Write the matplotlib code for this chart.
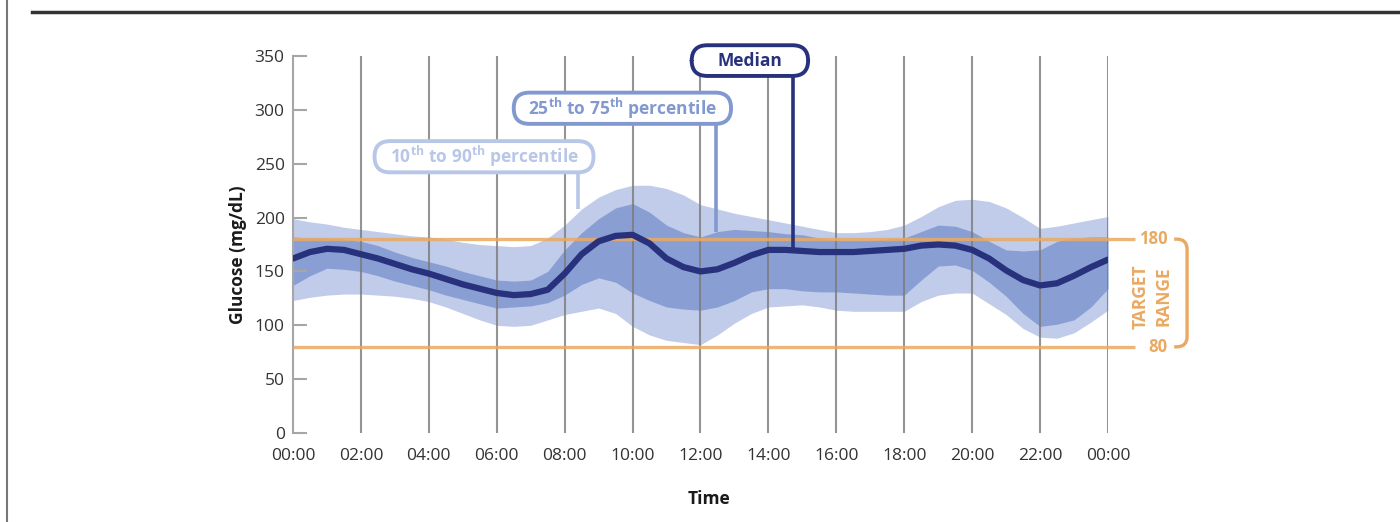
import numpy as np
import matplotlib
matplotlib.use("Agg")
import matplotlib.pyplot as plt
from matplotlib.patches import FancyBboxPatch, PathPatch
from matplotlib.path import Path
from matplotlib.lines import Line2D

plt.rcParams['font.family'] = ['Open Sans', 'DejaVu Sans']
plt.rcParams['mathtext.fontset'] = 'custom'
plt.rcParams['mathtext.rm'] = 'Open Sans'
plt.rcParams['mathtext.bf'] = 'Open Sans:bold'

# data: glucose profile, read every half hour
hours = np.arange(0, 24.5, 0.5)
median = [162, 168, 171, 170, 166, 162, 157, 152, 148, 143,
          138, 134, 130, 128, 129, 133, 148, 166, 178, 183,
          184, 176, 162, 154, 150, 152, 158, 165, 170, 170,
          169, 168, 168, 168, 169, 170, 171, 174, 175, 174,
          170, 162, 151, 142, 137, 139, 146, 154, 161]
p90 = [199, 196, 194, 191, 189, 187, 185, 183, 182, 180,
       177, 175, 174, 173, 174, 181, 193, 208, 219, 226,
       230, 230, 227, 221, 212, 208, 204, 201, 198, 195,
       192, 189, 186, 186, 187, 189, 193, 201, 210, 216,
       217, 215, 209, 200, 190, 192, 195, 198, 201]
p10 = [123, 126, 128, 129, 129, 128, 127, 125, 122, 117,
       111, 105, 100, 99, 100, 105, 110, 113, 116, 111,
       99, 91, 86, 84, 82, 91, 102, 111, 117, 118,
       119, 117, 114, 113, 113, 113, 113, 122, 128, 130,
       130, 120, 110, 97, 89, 88, 93, 103, 114]
p75 = [182, 181, 181, 180, 178, 174, 168, 163, 159, 155,
       150, 146, 142, 141, 142, 150, 170, 186, 199, 209,
       213, 205, 193, 186, 182, 187, 189, 188, 187, 185,
       184, 181, 179, 179, 179, 180, 181, 187, 193, 192,
       187, 178, 170, 169, 170, 178, 181, 182, 182]
p25 = [137, 146, 153, 152, 150, 146, 141, 137, 133, 128,
       124, 120, 116, 117, 118, 121, 128, 138, 144, 140,
       130, 123, 117, 115, 114, 117, 123, 131, 134, 134,
       132, 131, 131, 130, 129, 128, 128, 142, 155, 156,
       151, 140, 127, 111, 99, 101, 105, 117, 134]
target_low = 80
target_high = 180
tick_hours = [0, 2, 4, 6, 8, 10, 12, 14, 16, 18, 20, 22, 24]
tick_labels = ["00:00", "02:00", "04:00", "06:00", "08:00", "10:00", "12:00",
               "14:00", "16:00", "18:00", "20:00", "22:00", "00:00"]
y_ticks = [0, 50, 100, 150, 200, 250, 300, 350]

c_outer = '#c0cce9'
c_inner = '#899fd4'
c_median = '#28317b'
c_orange = '#eaa962'
c_lab_outer = '#b8c6e7'
c_lab_inner = '#8199d0'

fig = plt.figure(figsize=(14, 5.22), dpi=100)
ax = fig.add_axes([0.2093, 0.1705, 0.5821, 0.7222])
ax.set_xlim(0, 24)
ax.set_ylim(0, 350)

# percentile bands and median
ax.fill_between(hours, p10, p90, color=c_outer, lw=0, zorder=1)
ax.fill_between(hours, p25, p75, color=c_inner, lw=0, zorder=1.1)
ax.vlines(tick_hours[1:], 0, 350, color='#7a7a7a', lw=1.5, alpha=0.8, zorder=2)
for v in (target_low, target_high):
    ax.plot([0, 24.8], [v, v], color=c_orange, lw=2.4, alpha=0.85,
            clip_on=False, zorder=3, solid_capstyle='butt')
ax.plot(hours, median, color=c_median, lw=4.5, zorder=5,
        solid_capstyle='round', solid_joinstyle='round')

# axes styling
for s in ('top', 'right', 'bottom'):
    ax.spines[s].set_visible(False)
ax.spines['left'].set_color('#a6a6a6')
ax.spines['left'].set_linewidth(1.5)
ax.set_yticks(y_ticks)
ax.tick_params(axis='y', direction='in', length=10, width=1.5, color='#a6a6a6',
               labelsize=12.5, labelcolor='#333333', pad=6)
ax.set_xticks(tick_hours)
ax.set_xticklabels(tick_labels)
ax.tick_params(axis='x', length=0, labelsize=12.5, labelcolor='#333333', pad=11)

fig.text(238 / 1400, 1 - 255 / 522, 'Glucose (mg/dL)', rotation=90, ha='center',
         va='center', fontsize=12.5, fontweight='bold', color='#1a1a1a')
fig.text(709 / 1400, 1 - 499 / 522, 'Time', ha='center', va='center',
         fontsize=12.5, fontweight='bold', color='#1a1a1a')

# frame lines of the page
fig.add_artist(Line2D([32 / 1400, 1], [1 - 12 / 522] * 2, color='#333333', lw=2.5))
fig.add_artist(Line2D([7 / 1400] * 2, [0, 1], color='#777777', lw=1.5))

# target range labels and bracket
ax.text(25.35, target_high, '180', color=c_orange, fontsize=12, fontweight='bold',
        ha='center', va='center', clip_on=False)
ax.text(25.47, target_low, '80', color=c_orange, fontsize=12, fontweight='bold',
        ha='center', va='center', clip_on=False)
ax.text(24.97, 127, 'TARGET', color=c_orange, fontsize=12.5, fontweight='bold',
        rotation=90, ha='center', va='center', clip_on=False)
ax.text(25.65, 127, 'RANGE', color=c_orange, fontsize=12.5, fontweight='bold',
        rotation=90, ha='center', va='center', clip_on=False)
bx0, bx1, rx, ry = 25.95, 26.33, 0.3, 9.5
verts = [(bx0, target_high), (bx1 - rx, target_high), (bx1, target_high),
         (bx1, target_high - ry), (bx1, target_low + ry), (bx1, target_low),
         (bx1 - rx, target_low), (bx0, target_low)]
codes = [Path.MOVETO, Path.LINETO, Path.CURVE3, Path.CURVE3, Path.LINETO,
         Path.CURVE3, Path.CURVE3, Path.LINETO]
ax.add_patch(PathPatch(Path(verts, codes), fill=False, ec=c_orange, lw=2.4,
                       clip_on=False, zorder=3))

# callout boxes
aspect = (1 / 1.077) / (1 / 33.96)


def callout(x0, x1, y0, y1, text, color, lead_x, lead_y, z):
    ax.plot([lead_x, lead_x], [y0, lead_y], color=color, lw=2.6, clip_on=False,
            zorder=z, solid_capstyle='butt')
    box = FancyBboxPatch((x0, y0), x1 - x0, y1 - y0,
                         boxstyle='round,pad=0,rounding_size=0.46',
                         mutation_aspect=aspect, fc='white', ec=color, lw=2.8,
                         clip_on=False, zorder=z)
    ax.add_patch(box)
    ax.text((x0 + x1) / 2, (y0 + y1) / 2, text, color=color, fontsize=12.5,
            fontweight='bold', ha='center', va='center', clip_on=False, zorder=z + 0.1)


callout(2.4, 8.85, 242, 271, r'10$^{\mathbf{th}}$ to 90$^{\mathbf{th}}$ percentile',
        c_lab_outer, 8.39, p90[17], 6)
callout(6.5, 12.9, 287, 316, r'25$^{\mathbf{th}}$ to 75$^{\mathbf{th}}$ percentile',
        c_lab_inner, 12.46, p75[25], 7)
callout(11.74, 15.17, 331.5, 360, 'Median', c_median, 14.72, median[29], 8)

fig.savefig('out.png', dpi=100)
